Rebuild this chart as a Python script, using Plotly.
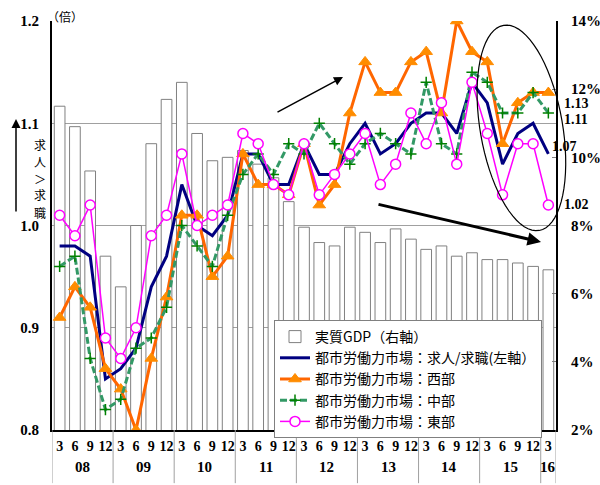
import math
import plotly.graph_objects as go

# ---------------- data ----------------
months = ["3", "6", "9", "12"] * 8 + ["3"]
years = ["08", "09", "10", "11", "12", "13", "14", "15", "16"]

gdp = [11.5, 10.9, 9.6, 7.1, 6.2, 8.0, 10.4, 11.7, 12.2, 10.7, 9.9, 10.0,
       10.2, 9.8, 9.4, 8.7, 7.95, 7.5, 7.4, 7.95, 7.8, 7.5, 7.9, 7.6,
       7.3, 7.4, 7.1, 7.2, 7.0, 7.0, 6.9, 6.8, 6.7]
ratio_all = [0.98, 0.98, 0.97, 0.85, 0.86, 0.88, 0.94, 0.97, 1.04, 1.00, 0.99, 1.01,
             1.07, 1.07, 1.04, 1.04, 1.08, 1.05, 1.05, 1.08, 1.10, 1.07, 1.08, 1.10,
             1.11, 1.11, 1.09, 1.14, 1.12, 1.06, 1.09, 1.10, 1.07]
ratio_west = [0.91, 0.94, 0.92, 0.86, 0.84, 0.80, 0.87, 0.93, 1.01, 1.01, 0.95, 0.97,
              1.07, 1.04, 1.04, 1.03, 1.08, 1.02, 1.04, 1.11, 1.16, 1.13, 1.13, 1.16,
              1.17, 1.11, 1.20, 1.17, 1.16, 1.08, 1.12, 1.13, 1.13]
ratio_central = [0.96, 0.97, 0.87, 0.82, 0.83, 0.88, 0.89, 0.92, 1.00, 0.98, 0.96, 1.01,
                 1.05, 1.07, 1.05, 1.08, 1.07, 1.10, 1.08, 1.06, 1.08, 1.09, 1.08, 1.07,
                 1.14, 1.08, 1.07, 1.15, 1.14, 1.11, 1.11, 1.13, 1.11]
ratio_east = [1.01, 0.99, 1.02, 0.89, 0.87, 0.90, 0.99, 1.01, 1.07, 1.00, 1.01, 1.02,
              1.09, 1.08, 1.04, 1.03, 1.08, 1.03, 1.05, 1.07, 1.09, 1.04, 1.06, 1.11,
              1.08, 1.12, 1.06, 1.14, 1.09, 1.03, 1.08, 1.08, 1.02]

end_labels = [("1.13", 1.119, 562), ("1.11", 1.104, 562), ("1.07", 1.077, 550), ("1.02", 1.021, 562)]

names = ["実質GDP（右軸）", "都市労働力市場：求人/求職(左軸）", "都市労働力市場：西部",
         "都市労働力市場：中部", "都市労働力市場：東部"]

side_label = ["求", "人", "＞", "求", "職"]

x = list(range(len(months)))

# ---------------- layout geometry ----------------
W, H = 600, 485
L, R, T, B = 52, 44, 21, 55
PW, PH = W - L - R, H - T - B


def px(X):
    return (X - L) / PW


def py(Y):
    return (T + PH - Y) / PH


serif = "Liberation Serif"
cjk = "Noto Sans CJK JP"

fig = go.Figure()

fig.add_trace(go.Bar(
    x=x, y=gdp, name=names[0], yaxis="y",
    marker=dict(color="white", line=dict(color="#808080", width=1)),
))
fig.add_trace(go.Scatter(
    x=x, y=ratio_all, name=names[1], yaxis="y2", mode="lines",
    line=dict(color="#000080", width=3),
))
fig.add_trace(go.Scatter(
    x=x, y=ratio_west, name=names[2], yaxis="y2", mode="lines+markers",
    line=dict(color="#FF6600", width=3),
    marker=dict(symbol="triangle-up", size=11, color="#FF8C00",
                line=dict(color="#FF8C00", width=1)),
))
fig.add_trace(go.Scatter(
    x=x, y=ratio_central, name=names[3], yaxis="y2", mode="lines+markers",
    line=dict(color="#339966", width=3, dash="7px,3px"),
    marker=dict(symbol="cross-thin", size=8, color="#008000",
                line=dict(color="#008000", width=1.5)),
))
fig.add_trace(go.Scatter(
    x=x, y=ratio_east, name=names[4], yaxis="y2", mode="lines+markers",
    line=dict(color="#FF00FF", width=1.5),
    marker=dict(symbol="circle", size=10, color="white",
                line=dict(color="#FF00FF", width=1.5)),
))

shapes = []
# year separators under the x axis
for k in list(range(0, len(months), 4)) + [len(months)]:
    shapes.append(dict(type="line", xref="x", yref="paper", x0=k - 0.5, x1=k - 0.5,
                       y0=0, y1=-0.13, line=dict(color="#A0A0A0", width=1)))

# tilted ellipse around the last quarters
cx, cy, a, b = 521.4, 127.9, 104.1, 41.2
th = math.radians(9.85)
ux, uy = -math.sin(th), -math.cos(th)
vx, vy = math.cos(th), -math.sin(th)
pts = []
for k in range(73):
    t = 2 * math.pi * k / 72
    X = cx + a * math.cos(t) * ux + b * math.sin(t) * vx
    Y = cy + a * math.cos(t) * uy + b * math.sin(t) * vy
    pts.append(f"{px(X):.5f},{py(Y):.5f}")
path = "M " + " L ".join(pts) + " Z"
shapes.append(dict(type="path", xref="paper", yref="paper", path=path,
                   line=dict(color="black", width=1.2)))

annotations = []
# year labels
for i, yr in enumerate(years):
    cxv = 4 * i + 1.5 if i < len(years) - 1 else len(months) - 1
    annotations.append(dict(x=cxv, y=py(467), xref="x", yref="paper", text=yr,
                            xanchor="center", yanchor="middle",
                            showarrow=False, font=dict(family=serif, size=15, color="black",
                                                       weight="bold")))
# end value labels
for txt, val, xpix in end_labels:
    annotations.append(dict(x=px(xpix), y=val, xref="paper", yref="y2", text=txt,
                            xanchor="left", yanchor="middle", showarrow=False,
                            font=dict(family=serif, size=14, color="black", weight="bold")))
# unit label
annotations.append(dict(x=px(45), y=py(17), xref="paper", yref="paper", text="（倍）",
                        xanchor="left", yanchor="middle", showarrow=False,
                        font=dict(family=cjk, size=12, color="black")))
# vertical text, one character per line
for j, ch in enumerate(side_label):
    annotations.append(dict(x=px(40), y=py(144 + 17 * j), xref="paper", yref="paper",
                            text=ch, showarrow=False, xanchor="center", yanchor="middle",
                            font=dict(family=cjk, size=12, color="black")))
# vertical arrow on the left
annotations.append(dict(x=px(16), y=py(119), xref="paper", yref="paper", text="",
                        showarrow=True, ax=0, ay=94, arrowhead=2, arrowsize=1.2,
                        arrowwidth=1.5, arrowcolor="black"))
# upward trend arrow
annotations.append(dict(x=px(343), y=py(77), xref="paper", yref="paper", text="",
                        showarrow=True, ax=-67, ay=36, arrowhead=2, arrowsize=1.2,
                        arrowwidth=1.5, arrowcolor="black"))
# downward trend arrow
annotations.append(dict(x=px(541), y=py(242), xref="paper", yref="paper", text="",
                        showarrow=True, ax=-164, ay=-38, arrowhead=2, arrowsize=0.9,
                        arrowwidth=3, arrowcolor="black"))

fig.update_layout(
    width=W, height=H, autosize=False,
    margin=dict(l=L, r=R, t=T, b=B, autoexpand=False),
    paper_bgcolor="white", plot_bgcolor="white",
    bargap=0.3,
    showlegend=True,
    legend=dict(x=px(274), y=py(320), xanchor="left", yanchor="top",
                bgcolor="white", bordercolor="#808080", borderwidth=1,
                font=dict(family=cjk, size=14, color="black"),
                tracegroupgap=0, itemwidth=30),
    xaxis=dict(range=[-0.5, len(months) - 0.5], tickmode="array", tickvals=x,
               ticktext=months, showgrid=False, zeroline=False, automargin=False,
               showline=True, linecolor="black", linewidth=2, ticks="",
               ticklabelstandoff=2,
               tickfont=dict(family=serif, size=14, color="black", weight="bold")),
    yaxis=dict(side="right", range=[2, 14], dtick=2, ticksuffix="%", automargin=False,
               showgrid=False, zeroline=False, showline=True, linecolor="black",
               linewidth=2, ticks="inside", ticklen=4, tickcolor="#808080",
               ticklabelstandoff=10,
               tickfont=dict(family=serif, size=15, color="black", weight="bold")),
    yaxis2=dict(side="left", overlaying="y", range=[0.8, 1.2], dtick=0.1, automargin=False,
                tickformat=".1f", showgrid=True, gridcolor="#A0A0A0", gridwidth=1,
                zeroline=False, showline=True, linecolor="black", linewidth=2,
                ticks="", ticklabelstandoff=8,
                tickfont=dict(family=serif, size=15, color="black", weight="bold")),
    shapes=shapes,
    annotations=annotations,
)

fig.write_html("out.html", config={"displayModeBar": False},
               post_script="document.body.style.margin='0';document.body.style.padding='0';")
